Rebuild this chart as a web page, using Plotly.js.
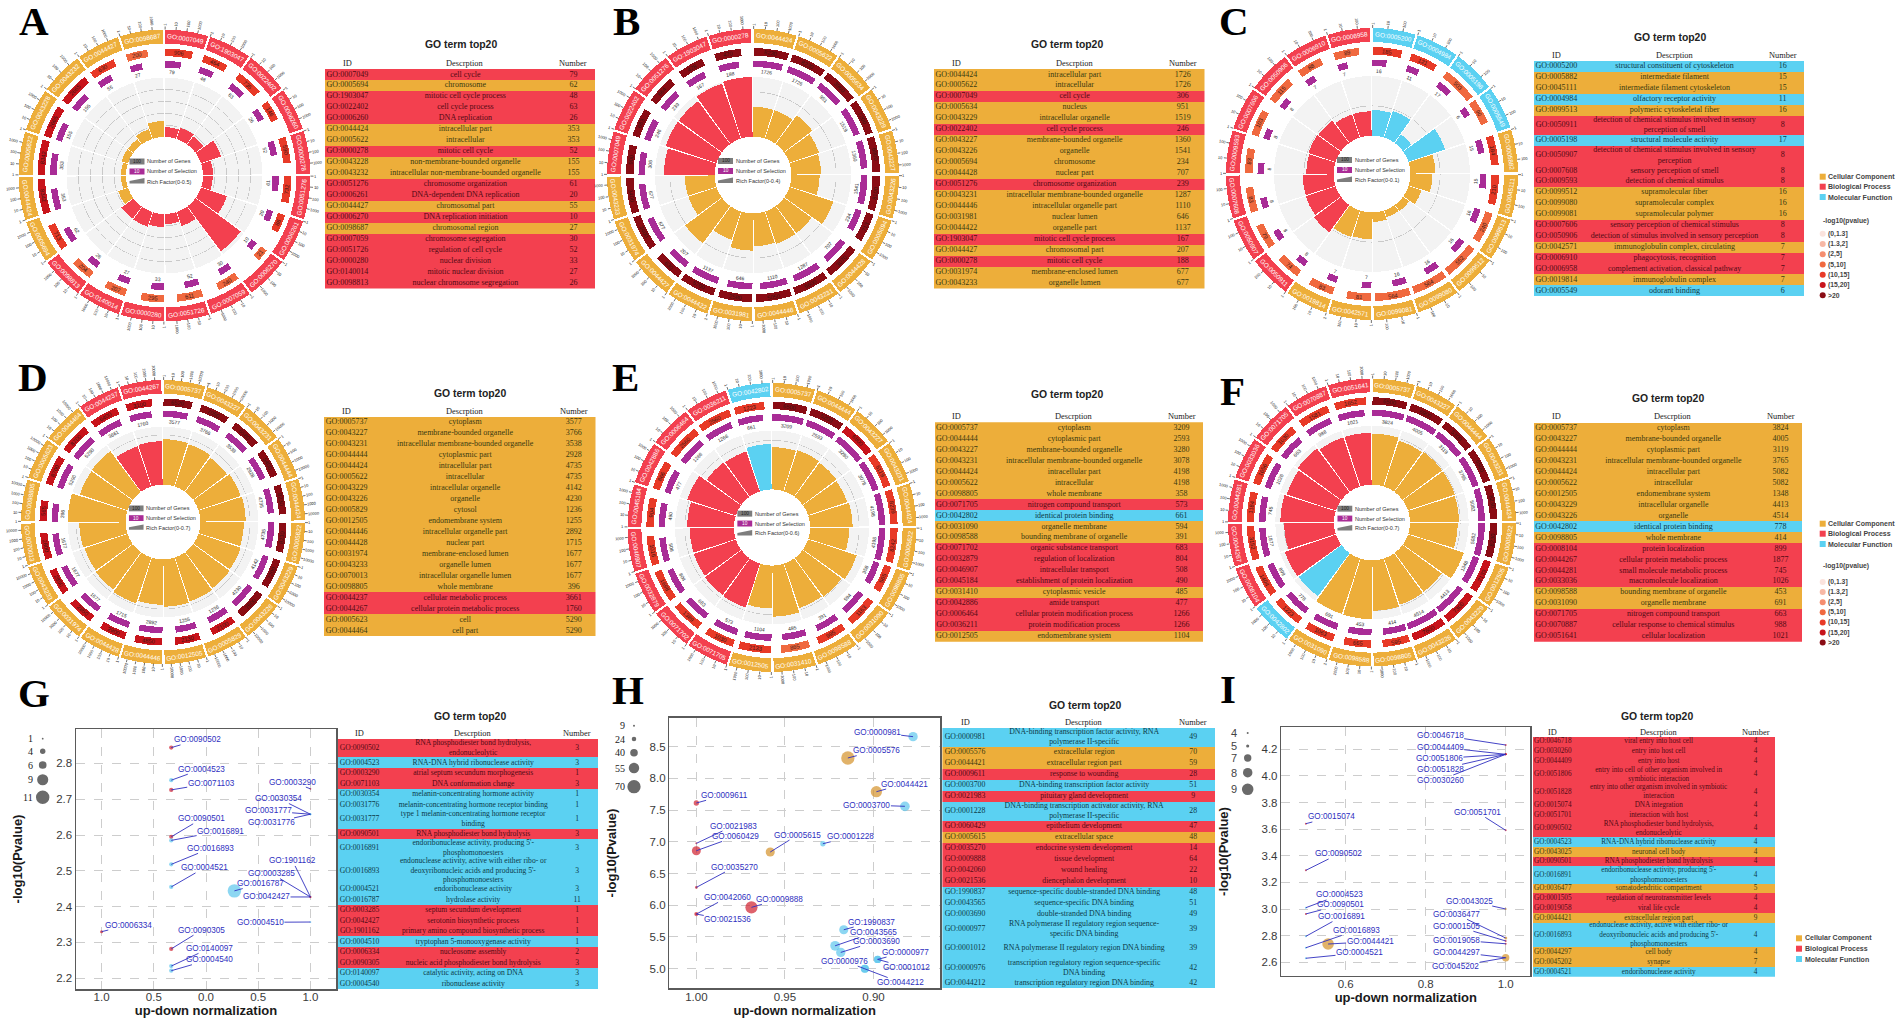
<!DOCTYPE html>
<html><head><meta charset="utf-8">
<script src="https://cdn.plot.ly/plotly-3.0.1.min.js"></script>
<style>html,body{margin:0;padding:0;background:#fff}#g{width:1902px;height:1023px}</style>
</head><body><div id="g"></div>
<script>
// ---------- DATA ----------
const cats = {B:'Biological Process', C:'Cellular Component', M:'Molecular Function'};
const pBins = ['(0,1.3]','(1.3,2]','(2,5]','(5,10]','(10,15]','(15,20]','>20'];

const idsA=['0007049','0005694','1903047','0022402','0006260','0044424','0005622','0000278','0043228','0043232','0051276','0006261','0044427','0006270','0098687','0007059','0051726','0000280','0140014','0098813'];
const descA=['cell cycle','chromosome','mitotic cell cycle process','cell cycle process','DNA replication','intracellular part','intracellular','mitotic cell cycle','non-membrane-bounded organelle','intracellular non-membrane-bounded organelle','chromosome organization','DNA-dependent DNA replication','chromosomal part','DNA replication initiation','chromosomal region','chromosome segregation','regulation of cell cycle','nuclear division','mitotic nuclear division','nuclear chromosome segregation'];
const numA=[79,62,48,63,26,353,353,52,155,155,61,20,55,10,27,30,52,33,27,26];
const catA='BCBBBCCBCCBBCBCBBBBB'.split('');
const genesA=[906,464,735,146,590,732,86,21,240,611,295,207,204,713,8342,8342,2665,2665,630,200];
const richA=[.083,.1,.085,.18,.085,.083,.23,.47,.125,.085,.11,.13,.127,.087,.042,.042,.058,.058,.087,.135];
const binA=[4,4,4,4,4,4,4,3,3,3,3,3,3,4,5,5,5,5,4,3];

const idsB=['0044424','0005622','0007049','0005634','0043229','0022402','0043227','0043226','0005694','0044428','0051276','0043231','0044446','0031981','0044422','1903047','0044427','0000278','0031974','0043233'];
const descB=['intracellular part','intracellular','cell cycle','nucleus','intracellular organelle','cell cycle process','membrane-bounded organelle','organelle','chromosome','nuclear part','chromosome organization','intracellular membrane-bounded organelle','intracellular organelle part','nuclear lumen','organelle part','mitotic cell cycle process','chromosomal part','mitotic cell cycle','membrane-enclosed lumen','organelle lumen'];
const numB=[1726,1726,306,951,1519,246,1360,1541,234,707,239,1287,1110,646,1137,167,207,188,677,677];
const catB='CCBCCBCCCCBCCCCBCBCC'.split('');
const genesB=[8230,8230,3960,7200,6800,8100,713,3070,5600,5050,2580,5700,630,3400,3400,900,683,664,428,470];
const richB=[.2,.2,.24,.21,.2,.19,.31,.23,.23,.22,.25,.2,.31,.2,.2,.34,.36,.36,.39,.4];
const binB=[6,6,6,6,6,6,6,6,6,6,6,6,6,6,6,6,6,6,6,6];

const idsC=['0005200','0005882','0045111','0004984','0099513','0050911','0005198','0050907','0007608','0009593','0099512','0099080','0099081','0007606','0050906','0042571','0006910','0006958','0019814','0005549'];
const descC=['structural constituent of cytoskeleton','intermediate filament','intermediate filament cytoskeleton','olfactory receptor activity','polymeric cytoskeletal fiber','detection of chemical stimulus involved in sensory<br>perception of smell','structural molecule activity','detection of chemical stimulus involved in sensory<br>perception','sensory perception of smell','detection of chemical stimulus','supramolecular fiber','supramolecular complex','supramolecular polymer','sensory perception of chemical stimulus','detection of stimulus involved in sensory perception','immunoglobulin complex, circulating','phagocytosis, recognition','complement activation, classical pathway','immunoglobulin complex','odorant binding'];
const numC=[16,15,15,11,16,8,17,8,8,8,16,16,16,8,8,7,7,7,7,6];
const catC='MCCMCBMBBBCCCBBCBBCM'.split('');
const genesC=[185,121,503,90,184,210,240,552,564,564,81,83,74,79,83,83,103,115,88,89];
const richC=[.043,.047,.018,.065,.042,.037,.023,.013,.012,.016,.045,.047,.057,.053,.052,.046,.048,.047,.041,.041];
const binC=[4,4,3,3,4,4,3,3,3,3,3,3,3,3,3,3,3,3,3,3];

const idsD=['0005737','0043227','0043231','0044444','0044424','0005622','0043229','0043226','0005829','0012505','0044446','0044428','0031974','0043233','0070013','0098805','0044237','0044267','0005623','0044464'];
const descD=['cytoplasm','membrane-bounded organelle','intracellular membrane-bounded organelle','cytoplasmic part','intracellular part','intracellular','intracellular organelle','organelle','cytosol','endomembrane system','intracellular organelle part','nuclear part','membrane-enclosed lumen','organelle lumen','intracellular organelle lumen','whole membrane','cellular metabolic process','cellular protein metabolic process','cell','cell part'];
const numD=[3577,3766,3538,2928,4735,4735,4142,4230,1236,1255,2892,1715,1677,1677,1677,396,3661,1760,5290,5290];
const catD='CCCCCCCCCCCCCCCCBBCC'.split('');
const genesD=[6520,7050,6580,5400,8230,8230,7200,7500,2100,2130,4850,2900,2850,2850,2800,565,8700,8700,6400,3100];
const richD=[.548,.537,.513,.537,.548,.525,.537,.548,.56,.572,.548,.583,.56,.548,.56,.7,.607,.615,.513,.525];
const binD=[6,6,6,6,6,6,6,6,5,5,5,5,5,5,5,5,5,5,5,5];

const idsE=['0005737','0044444','0043227','0043231','0044424','0005622','0098805','0071705','0042802','0031090','0098588','0071702','0032879','0046907','0045184','0031410','0042886','0006464','0036211','0012505'];
const descE=['cytoplasm','cytoplasmic part','membrane-bounded organelle','intracellular membrane-bounded organelle','intracellular part','intracellular','whole membrane','nitrogen compound transport','identical protein binding','organelle membrane','bounding membrane of organelle','organic substance transport','regulation of localization','intracellular transport','establishment of protein localization','cytoplasmic vesicle','amide transport','cellular protein modification process','protein modification process','endomembrane system'];
const numE=[3209,2593,3280,3078,4198,4198,358,573,661,594,391,683,804,508,490,485,477,1266,1266,1104];
const catE='CCCCCCCBMCCBBBBCBBBC'.split('');
const genesE=[6500,5200,6800,6119,8239,8242,565,1163,995,865,2133,1030,1389,1698,1016,904,866,2560,2560,1223];
const richE=[.43,.44,.43,.42,.434,.40,.52,.49,.478,.52,.437,.47,.463,.453,.45,.477,.52,.437,.43,.463];
const binE=[6,6,5,4,4,4,4,4,4,3,4,4,4,4,4,4,4,4,4,4];

const idsF=['0005737','0043227','0044444','0043231','0044424','0005622','0012505','0043229','0043226','0042802','0098805','0008104','0044267','0044281','0033036','0098588','0031090','0071705','0070887','0051641'];
const descF=['cytoplasm','membrane-bounded organelle','cytoplasmic part','intracellular membrane-bounded organelle','intracellular part','intracellular','endomembrane system','intracellular organelle','organelle','identical protein binding','whole membrane','protein localization','cellular protein metabolic process','small molecule metabolic process','macromolecule localization','bounding membrane of organelle','organelle membrane','nitrogen compound transport','cellular response to chemical stimulus','cellular localization'];
const numF=[3824,4005,3119,3765,5082,5082,1348,4413,4514,778,414,899,1877,745,1026,453,691,663,988,1021];
const catF='CCCCCCCCCMCBBBBCCBBB'.split('');
const genesF=[6500,6900,5300,6500,8230,8230,2133,7300,7600,595,665,1063,1223,1404,3152,1184,1656,1030,1581,1652];
const richF=[.607,.575,.59,.59,.584,.57,.70,.577,.583,.6,.7,.696,.637,.644,.595,.64,.618,.647,.618,.618];
const binF=[6,6,6,6,6,6,5,5,5,4,4,4,4,4,4,4,4,4,4,4];

const idsG=['0090502','0004523','0003290','0071103','0030354','0031776','0031777','0090501','0016891','0016893','0004521','0016787','0003285','0042427','1901162','0004510','0006334','0090305','0140097','0004540'];
const descG=['RNA phosphodiester bond hydrolysis,<br>endonucleolytic','RNA-DNA hybrid ribonuclease activity','atrial septum secundum morphogenesis','DNA conformation change','melanin-concentrating hormone activity','melanin-concentrating hormone receptor binding','type 1 melanin-concentrating hormone receptor<br>binding','RNA phosphodiester bond hydrolysis',"endoribonuclease activity, producing 5'-<br>phosphomonoesters","endonuclease activity, active with either ribo- or<br>deoxyribonucleic acids and producing 5'-<br>phosphomonoesters",'endoribonuclease activity','hydrolase activity','septum secundum development','serotonin biosynthetic process','primary amino compound biosynthetic process','tryptophan 5-monooxygenase activity','nucleosome assembly','nucleic acid phosphodiester bond hydrolysis','catalytic activity, acting on DNA','ribonuclease activity'];
const numG=[3,3,1,3,1,1,1,3,3,3,3,11,1,1,1,1,2,3,3,3];
const catG='BMBBMMMBMMMMBBBMBBMM'.split('');
const normG=[-.333,-.333,1,-.333,1,1,1,-.333,-.333,-.333,-.333,.272,1,1,1,1,-1,-.333,-.333,-.333];
const logpG=[2.844,2.753,2.729,2.726,2.658,2.658,2.658,2.595,2.585,2.518,2.455,2.444,2.427,2.427,2.427,2.357,2.33,2.282,2.234,2.221];
const dxG=[26.5,30.4,-18,40,-31.6,-38.7,-42.3,30.4,49.4,39,33,26.5,-38.7,-43.9,-17.8,-50,26.5,30.4,38,38];
const dyG=[-7.7,-11,-6.7,-6.7,-15.7,8.7,-3.3,-18,-9.3,-16,-19,-7.3,-23.3,0,-36,.3,-6.7,-18.7,-17.7,-11];

const idsH=['0000981','0005576','0044421','0009611','0003700','0021983','0001228','0060429','0005615','0035270','0009888','0042060','0021536','1990837','0043565','0003690','0000977','0001012','0000976','0044212'];
const descH=['DNA-binding transcription factor activity, RNA<br>polymerase II-specific','extracellular region','extracellular region part','response to wounding','DNA-binding transcription factor activity','pituitary gland development','DNA-binding transcription activator activity, RNA<br>polymerase II-specific','epithelium development','extracellular space','endocrine system development','tissue development','wound healing','diencephalon development','sequence-specific double-stranded DNA binding','sequence-specific DNA binding','double-stranded DNA binding','RNA polymerase II regulatory region sequence-<br>specific DNA binding','RNA polymerase II regulatory region DNA binding','transcription regulatory region sequence-specific<br>DNA binding','transcription regulatory region DNA binding'];
const numH=[49,70,59,28,51,9,28,47,48,14,64,22,10,48,51,49,39,39,42,42];
const catH='MCCBMBMBCBBBBMMMMMMM'.split('');
const normH=[.8777,.9145,.8984,1,.8823,1,.9286,1,.9583,1,.9689,1,1,.9168,.9217,.9185,.8977,.8977,.9049,.9049];
const logpH=[8.658,8.322,7.79,7.612,7.56,6.976,6.97,6.86,6.839,6.282,5.967,5.861,5.861,5.614,5.361,5.257,5.147,5.147,4.998,4.998];
const dxH=[-35.9,28.2,27.8,27.8,-38,36.7,27.8,39.6,27.3,38,27.8,31,31.4,28.2,38.8,35.5,28.2,29,-20.4,35.9];
const dyH=[-4.3,-7.3,-7.7,-7.7,-1.3,-17.3,-7,-14.3,-17,-20.3,-8,-16.7,5.7,-7.7,-13.3,-11,-7.3,8,-7.7,13.7];

const idsI=['0046718','0030260','0044409','0051806','0051828','0015074','0051701','0090502','0004523','0043025','0090501','0016891','0036477','0001505','0019058','0044421','0016893','0044297','0045202','0004521'];
const descI=['viral entry into host cell','entry into host cell','entry into host','entry into cell of other organism involved in<br>symbiotic interaction','entry into other organism involved in symbiotic<br>interaction','DNA integration','interaction with host','RNA phosphodiester bond hydrolysis,<br>endonucleolytic','RNA-DNA hybrid ribonuclease activity','neuronal cell body','RNA phosphodiester bond hydrolysis',"endoribonuclease activity, producing 5'-<br>phosphomonoesters",'somatodendritic compartment','regulation of neurotransmitter levels','viral life cycle','extracellular region part',"endonuclease activity, active with either ribo- or<br>deoxyribonucleic acids and producing 5'-<br>phosphomonoesters",'cell body','synapse','endoribonuclease activity'];
const numI=[4,4,4,4,4,4,4,4,4,4,4,4,5,4,4,9,4,4,7,4];
const catI='BBBBBBBBMCBMCBBCMCCM'.split('');
const normI=[1,1,1,1,1,.5005,1,.5005,.5005,1,.5005,.5005,1,1,1,.556,.5005,1,1,.5005];
const logpI=[4.232,4.162,4.162,4.162,4.162,3.641,3.591,3.291,3.01,3.0,2.963,2.795,2.782,2.76,2.739,2.737,2.709,2.634,2.634,2.63];
const dxI=[-65.5,-65.1,-65.5,-66.3,-65.5,25.4,-28.3,32.8,34,-36,34.4,35.6,-49,-49,-49,42,50.4,-49,-50,53.6];
const dyI=[-10,25.7,-7.3,4.3,15,-6.7,-18,-16.3,-12.7,-8,-9,-19.7,-23.7,-14.7,-3.7,-2.3,-17.3,-5.7,8.7,-5.3];

// ---------- STYLE / LAYOUT CONSTANTS ----------
const W=1902,H=1023, SANS='"Liberation Sans",Arial,sans-serif', SERIF='"Liberation Serif","Times New Roman",serif';
const px=x=>x/W, py=y=>1-y/H;
const FILL={B:'#f3404f',C:'#edae3a',M:'#5bd1f2'};
const INK={B:'#520a14',C:'#3a3a10',M:'#0c3a48'};
const DOT={B:'#d0202e',C:'#d4922a',M:'#5cc6ec'};
const BIN=['#fbe3dd','#f7b8a5','#f58e70','#f0693f','#e83a27','#c8141b','#8a0c14'];
const BLUE='#2f2fc0';

const traces=[], annotations=[], shapes=[];
const layout={width:W,height:H,margin:{l:0,r:0,t:0,b:0},paper_bgcolor:'#fff',plot_bgcolor:'#fff',showlegend:false,bargap:0,barmode:'overlay',font:{family:SANS}};

function note(x,y,text,size,color,o){annotations.push(Object.assign({xref:'paper',yref:'paper',x:px(x),y:py(y),text:String(text),showarrow:false,xanchor:'center',yanchor:'middle',borderpad:0,borderwidth:0,font:{size:size,color:color,family:SANS}},o||{}));}

// ---------- CIRCULAR PANELS ----------
const RMAX=152, TRACK={ringIn:132,ringOut:146,geneIn:119.5,geneOut:127,selIn:108,selOut:114.5,selLab:103.5,rich0:38.5,richSpan:59.5,tick:149};
const GENE_CAP=16.2;
function circos(n,cfg){
  const {cx,cy,R,ids,num,cat,genes,rich,bin,order,ticks,deg,max,grid}=cfg;
  const k=R/146, Rd=R*RMAX/146, sp=n===1?'polar':'polar'+n;
  layout[sp]={domain:{x:[px(cx-Rd),px(cx+Rd)],y:[py(cy+Rd),py(cy-Rd)]},bgcolor:'rgba(0,0,0,0)',barmode:'overlay',bargap:0,
    radialaxis:{visible:false,range:[0,RMAX]},angularaxis:{visible:false,direction:'clockwise',rotation:90}};
  const ring=[];
  order.forEach(g=>ids.forEach((id,i)=>{if(cat[i]===g)ring.push(i);}));
  const starts=ring.map((_,i)=>i*18+0.25), SW=17.1;
  const mid=starts.map(s=>s+SW/2), widths=ring.map(()=>SW);
  const bar=(theta,width,base,r,color)=>traces.push({type:'barpolar',subplot:sp,theta,width,base,r,marker:{color,line:{width:0}},hoverinfo:'skip'});
  const rr=v=>ring.map(()=>v);
  // rich-factor background, grid, bars
  bar(mid,widths,rr(TRACK.rich0),rr(TRACK.richSpan),rr('#f3f3f3'));
  grid.forEach(g=>bar(mid,widths,rr(TRACK.rich0+g/max*TRACK.richSpan-.3),rr(.6),rr('#c9c9c9')));
  bar(mid,widths,rr(TRACK.rich0),ring.map((_,i)=>rich[i]/max*TRACK.richSpan),ring.map(i=>FILL[cat[i]]));
  // selection + gene tracks: angular length follows the log axis
  const selW=ring.map(i=>Math.log10(num[i])*deg), genW=genes.map(g=>Math.min(GENE_CAP,Math.log10(g)*deg));
  bar(starts.map((s,i)=>s+selW[i]/2),selW,rr(TRACK.selIn),rr(TRACK.selOut-TRACK.selIn),rr('#a92c96'));
  bar(starts.map((s,i)=>s+genW[i]/2),genW,rr(TRACK.geneIn),rr(TRACK.geneOut-TRACK.geneIn),bin.map(b=>BIN[b]));
  // outer category ring
  bar(mid,widths,rr(TRACK.ringIn),rr(TRACK.ringOut-TRACK.ringIn),ring.map(i=>FILL[cat[i]]));
  // log ticks
  const tt=[],tr=[];
  starts.forEach(s=>ticks.forEach((t,j)=>{const th=s+Math.log10(t)*deg;tt.push(th,th,null);tr.push(TRACK.ringOut,TRACK.tick,null);}));
  traces.push({type:'scatterpolar',subplot:sp,mode:'lines',theta:tt,r:tr,line:{color:'#333',width:.7},hoverinfo:'skip'});
  // rotated texts
  const pt=(r,t)=>{const a=t*Math.PI/180;return [cx+k*r*Math.sin(a),cy-k*r*Math.cos(a)];};
  const tang=t=>{t=((t%360)+360)%360;return (t>90&&t<270)?t-180:(t>=270?t-360:t);};
  const radial=t=>{t=((t%360)+360)%360;return t<=180?t-90:t-270;};
  ring.forEach((i,q)=>{
    let p=pt((TRACK.ringIn+TRACK.ringOut)/2,mid[q]);
    note(p[0],p[1],'GO:'+ids[i],6.4,'#fff',{textangle:tang(mid[q])});
    const gm=starts[q]+genW[q]/2; p=pt((TRACK.geneIn+TRACK.geneOut)/2,gm);
    note(p[0],p[1],genes[q],5.8,'#3a1512',{textangle:tang(gm)});
    const sm=starts[q]+selW[q]/2; p=pt(TRACK.selLab,sm);
    note(p[0],p[1],num[i],5,'#2a2a2a',{textangle:tang(sm)});
    ticks.forEach(t=>{const th=starts[q]+Math.log10(t)*deg,s=String(t);
      const pp=pt(TRACK.tick+.8+s.length*1.1,th);
      note(pp[0],pp[1],s,4,'#222',{textangle:radial(th)});});
  });
  // centre legend
  const rect=(y0,y1,c)=>shapes.push({type:'rect',xref:'paper',yref:'paper',x0:px(cx-k*35),x1:px(cx-k*20),y0:py(cy+k*y0),y1:py(cy+k*y1),fillcolor:c,line:{width:0}});
  rect(-17,-11,'#7d7d7d'); rect(-7,-1,'#a92c96');
  shapes.push({type:'path',xref:'paper',yref:'paper',path:`M ${px(cx-k*35)} ${py(cy+k*8)} L ${px(cx-k*20)} ${py(cy+k*8)} L ${px(cx-k*20)} ${py(cy+k*2.5)} L ${px(cx-k*35)} ${py(cy+k*5.5)} Z`,fillcolor:'#7d7d7d',line:{width:0}});
  note(cx-k*27.5,cy-k*14,'100',4.8,'#222'); note(cx-k*27.5,cy-k*4,'10',4.8,'#fff');
  const tx=cx-k*17.5, l={xanchor:'left'};
  note(tx,cy-k*14,'Number of Genes',5.5,'#333',l);
  note(tx,cy-k*4,'Number of Selection',5.5,'#333',l);
  note(tx,cy+k*6,'Rich Factor(0-'+max+')',5.5,'#333',l);
}
circos(1,{cx:164.5,cy:175.5,R:146,ids:idsA,num:numA,cat:catA,genes:genesA,rich:richA,bin:binA,order:['B','C'],ticks:[1,10,100,1000],deg:4.3,max:.5,grid:[.1,.2,.3,.4]});
circos(2,{cx:753,cy:175,R:146,ids:idsB,num:numB,cat:catB,genes:genesB,rich:richB,bin:binB,order:['C','B'],ticks:[1,10,100,1000],deg:4.6,max:.4,grid:[.3]});
circos(3,{cx:1372,cy:174,R:146,ids:idsC,num:numC,cat:catC,genes:genesC,rich:richC,bin:binC,order:['M','C','B'],ticks:[1,10,100],deg:6,max:.1,grid:[.05]});
circos(4,{cx:163,cy:522,R:142,ids:idsD,num:numD,cat:catD,genes:genesD,rich:richD,bin:binD,order:['C','B'],ticks:[1,10,100,1000,10000],deg:3.6,max:.7,grid:[.6]});
circos(5,{cx:772,cy:527.5,R:144.5,ids:idsE,num:numE,cat:catE,genes:genesE,rich:richE,bin:binE,order:['C','B','M'],ticks:[1,10,100,1000],deg:4.6,max:.6,grid:[.5]});
circos(6,{cx:1372,cy:522.5,R:144,ids:idsF,num:numF,cat:catF,genes:genesF,rich:richF,bin:binF,order:['C','M','B'],ticks:[1,10,100,1000],deg:4.6,max:.7,grid:[.6]});

// ---------- TABLES (rows drawn as horizontal bars on hidden axes) ----------
let ax=1;
function axKeys(){ax++;return {x:'x'+ax,y:'y'+ax,xa:'xaxis'+ax,ya:'yaxis'+ax};}
function table(cfg){
  const {l,r,top,bottom,headY,titleX,titleY,ids,desc,num,cat,font,tall}=cfg;
  const a=axKeys();
  const w=desc.map((d,i)=>1+.76*(Math.max(d.split('<br>').length,(tall||[]).includes(ids[i])?2:1)-1));
  const yc=[];let s=0;w.forEach(v=>{yc.push(s+v/2);s+=v;});
  layout[a.xa]={domain:[px(l),px(r)],range:[0,1],visible:false,fixedrange:true,anchor:a.y};
  layout[a.ya]={domain:[py(bottom),py(top)],range:[s,0],visible:false,fixedrange:true,anchor:a.x};
  traces.push({type:'bar',orientation:'h',xaxis:a.x,yaxis:a.y,y:yc,x:w.map(()=>1),width:w,marker:{color:cat.map(c=>FILL[c]),line:{width:0}},hoverinfo:'skip'});
  const cols=[.083,.52,.92];
  const colv=[ids.map(i=>'GO:'+i),desc,num.map(String)];
  cols.forEach((cx,j)=>traces.push({type:'scatter',mode:'text',xaxis:a.x,yaxis:a.y,x:yc.map(()=>cx),y:yc,text:colv[j],textposition:'middle center',cliponaxis:false,textfont:{family:SERIF,size:font||8,color:cat.map(c=>INK[c])},hoverinfo:'skip'}));
  ['ID','Descrption','Number'].forEach((t,j)=>note(l+(r-l)*cols[j],headY,t,8.4,'#222',{font:{size:8.4,color:'#222',family:SERIF}}));
  note(titleX,titleY,'<b>GO term top20</b>',10.4,'#222');
}
table({l:325,r:595,top:69,bottom:288.5,headY:64,titleX:461,titleY:45,ids:idsA,desc:descA,num:numA,cat:catA});
table({l:934,r:1204.5,top:69,bottom:288.5,headY:64,titleX:1067,titleY:45,ids:idsB,desc:descB,num:numB,cat:catB});
table({l:1534,r:1804.3,top:61,bottom:296.3,headY:55.7,titleX:1670,titleY:37.7,ids:idsC,desc:descC,num:numC,cat:catC});
table({l:324,r:595.5,top:417,bottom:636,headY:411,titleX:470,titleY:393,ids:idsD,desc:descD,num:numD,cat:catD});
table({l:934.7,r:1203,top:422.3,bottom:641.7,headY:416.5,titleX:1067,titleY:394.5,ids:idsE,desc:descE,num:numE,cat:catE});
table({l:1534,r:1802,top:422.7,bottom:641.7,headY:416.5,titleX:1668,titleY:398,ids:idsF,desc:descF,num:numF,cat:catF});
table({l:338,r:598,top:739,bottom:989,headY:733.5,titleX:470,titleY:716,ids:idsG,desc:descG,num:numG,cat:catG,font:7.6});
table({l:942.4,r:1215,top:727.7,bottom:988.3,headY:722.3,titleX:1085,titleY:705.7,ids:idsH,desc:descH,num:numH,cat:catH,tall:['0001012'],font:7.8});
table({l:1532.7,r:1775,top:736.7,bottom:976.7,headY:732,titleX:1656.8,titleY:716.7,ids:idsI,desc:descI,num:numI,cat:catI,font:7.2});

// ---------- SCATTER PANELS ----------
function scatter(cfg){
  const {l,r,top,bottom,xr,yr,xv,xt,yv,yt,ids,num,cat,nx,ny,dx,dy,d,legend,lx,nxp,lFont,yStand}=cfg;
  const a=axKeys();
  const frame={showline:true,mirror:true,linecolor:'#5a5a5a',linewidth:1.5,showgrid:true,gridcolor:'#cdcdcd',griddash:'dash',gridwidth:1,zeroline:false,ticks:'',fixedrange:true,tickfont:{size:11.5,color:'#3a3a3a',family:SANS}};
  const tf={size:13,color:'#1a1a1a',family:SANS};
  layout[a.xa]=Object.assign({},frame,{domain:[px(l),px(r)],range:xr,anchor:a.y,tickmode:'array',tickvals:xv,ticktext:xt,ticklabelstandoff:-3,title:{text:'<b>up-down normalization</b>',font:tf,standoff:0}});
  layout[a.ya]=Object.assign({},frame,{domain:[py(bottom),py(top)],range:yr,anchor:a.x,tickmode:'array',tickvals:yv,ticktext:yt,title:{text:'<b>-log10(Pvalue)</b>',font:tf,standoff:yStand}});
  traces.push({type:'scatter',mode:'markers',xaxis:a.x,yaxis:a.y,x:nx,y:ny,hoverinfo:'skip',marker:{size:num.map(d),color:cat.map(c=>DOT[c]),line:{width:0}}});
  ids.forEach((id,i)=>annotations.push({xref:a.x,yref:a.y,x:nx[i],y:ny[i],text:'GO:'+id,showarrow:true,arrowhead:0,arrowwidth:.9,arrowcolor:BLUE,standoff:0,startstandoff:0,ax:dx[i],ay:dy[i],borderpad:0,font:{size:8.2,color:BLUE,family:SANS}}));
  // size legend
  legend.forEach(e=>{const s=d(e.n);
    shapes.push({type:'circle',xref:'paper',yref:'paper',x0:px(lx-s/2),x1:px(lx+s/2),y0:py(e.y+s/2),y1:py(e.y-s/2),fillcolor:'#6a6a6a',line:{width:0}});
    note(nxp,e.y,e.n,lFont.size,'#222',{font:lFont,xanchor:'right'});});
}
const sizeG=n=>n<2?1.8:1.15*n+.8, sizeH=n=>Math.max(2,.19*n), sizeI=n=>Math.max(2,2.1*(n-3.5));
scatter({l:76,r:336,top:729,bottom:989,xr:[-1.245,1.245],yr:[2.17,2.896],xv:[-1,-.5,0,.5,1],xt:['1.0','0.5','0.0','0.5','1.0'],yv:[2.2,2.3,2.4,2.5,2.6,2.7,2.8],yt:['2.2','2.3','2.4','2.5','2.6','2.7','2.8'],ids:idsG,num:numG,cat:catG,nx:normG,ny:logpG,dx:dxG,dy:dyG,d:sizeG,lx:42.7,nxp:33,lFont:{size:10,color:'#222',family:SERIF},yStand:30,
  legend:[{n:1,y:738.7},{n:4,y:751.3},{n:6,y:765},{n:9,y:779.7},{n:11,y:797.3}]});
scatter({l:669.4,r:940,top:717.7,bottom:988.3,xr:[1.0152,.8625],yr:[4.691,8.957],xv:[1,.95,.9],xt:['1.00','0.95','0.90'],yv:[5,5.5,6,6.5,7,7.5,8,8.5],yt:['5.0','5.5','6.0','6.5','7.0','7.5','8.0','8.5'],ids:idsH,num:numH,cat:catH,nx:normH,ny:logpH,dx:dxH,dy:dyH,d:sizeH,lx:634,nxp:625,lFont:{size:10,color:'#222',family:SERIF},yStand:30,
  legend:[{n:9,y:725.7},{n:24,y:739},{n:40,y:752.7},{n:55,y:768},{n:70,y:786.7}]});
scatter({l:1281.3,r:1530.3,top:727.3,bottom:975.7,xr:[.439,1.0615],yr:[2.499,4.365],xv:[.6,.8,1],xt:['0.6','0.8','1.0'],yv:[2.6,2.8,3,3.2,3.4,3.6,3.8,4,4.2],yt:['2.6','2.8','3.0','3.2','3.4','3.6','3.8','4.0','4.2'],ids:idsI,num:numI,cat:catI,nx:normI,ny:logpI,dx:dxI,dy:dyI,d:sizeI,lx:1247.7,nxp:1237,lFont:{size:11,color:'#444',family:SANS},yStand:30,
  legend:[{n:4,y:733},{n:5,y:746},{n:7,y:758},{n:8,y:772.7},{n:9,y:789.3}]});

// ---------- PANEL LETTERS ----------
[['A',34,21],['B',626,21],['C',1234,21],['D',33,377],['E',625,377],['F',1232,391],['G',34,693],['H',628,690],['I',1228,689]].forEach(p=>
  note(p[1],p[2],'<b>'+p[0]+'</b>',41,'#000',{font:{size:41,color:'#000',family:SERIF}}));

// ---------- SIDE LEGENDS ----------
function catLegend(x,ys){
  ['C','B','M'].forEach((c,i)=>{
    shapes.push({type:'rect',xref:'paper',yref:'paper',x0:px(x-3),x1:px(x+3),y0:py(ys[i]+3),y1:py(ys[i]-3),fillcolor:FILL[c],line:{width:0}});
    note(x+5.5,ys[i],'<b>'+cats[c]+'</b>',7,'#444',{xanchor:'left'});});
}
function binLegend(x,ty,y0,step){
  note(x,ty,'<b>-log10(pvalue)</b>',6.8,'#444',{xanchor:'left'});
  pBins.forEach((b,i)=>{const y=y0+i*step;
    shapes.push({type:'circle',xref:'paper',yref:'paper',x0:px(x-3),x1:px(x+3),y0:py(y+3),y1:py(y-3),fillcolor:BIN[i],line:{width:0}});
    note(x+5.5,y,'<b>'+b.replace('>','&gt;')+'</b>',6.8,'#444',{xanchor:'left'});});
}
catLegend(1822.7,[176.7,186.7,197]); binLegend(1822.7,220.7,233.7,10.27);
catLegend(1822.7,[523.7,533.7,544]); binLegend(1822.7,566,582,10.1);
catLegend(1799,[938.3,948.7,959]);

layout.annotations=annotations; layout.shapes=shapes;
Plotly.newPlot('g',traces,layout,{staticPlot:true,displayModeBar:false,responsive:false});
</script></body></html>
